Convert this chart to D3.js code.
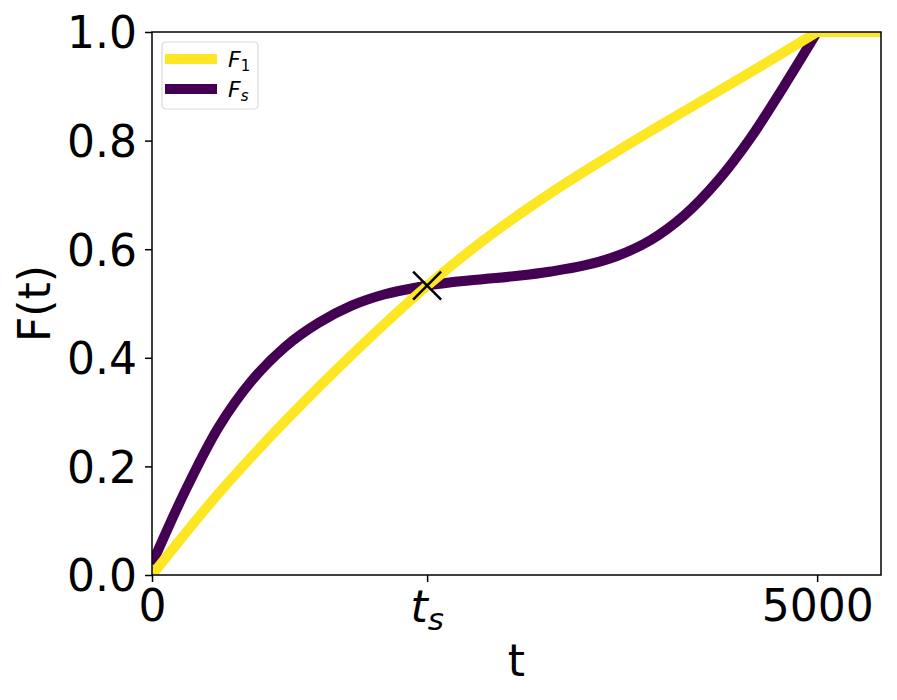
<!DOCTYPE html>
<html>
<head>
<meta charset="utf-8">
<script src="https://cdn.jsdelivr.net/npm/d3@7"></script>
<style>
  body { margin: 0; background: #fff; }
  text { font-family: "DejaVu Sans", sans-serif; }
</style>
</head>
<body>
<script>
(function() {
    var w = 897,
        h = 700;
    var margin = {top: 32, right: 16, bottom: 125, left: 152};

    // data
    var tS = 2068;
    var tEnd = 5000;
    var xTicks = [0, tS, 5000];
    var yTicks = [0, 0.2, 0.4, 0.6, 0.8, 1.0];
    var f1T = [0, 500, 1000, 1500, 2000, 2500, 3000, 3500, 4000, 4500, 5000, 5480];
    var f1V = [0, 0.150, 0.283, 0.405, 0.518, 0.618, 0.704, 0.781, 0.854, 0.926, 1.0, 1.0];
    var fsT = [0, 250, 500, 750, 1000, 1250, 1500, 1750, 2000, 2250, 2500, 2750, 3000, 3250, 3500, 3750, 4000, 4250, 4500, 4750, 5000, 5480];
    var fsV = [0.02, 0.155, 0.272, 0.358, 0.420, 0.464, 0.496, 0.517, 0.530, 0.539, 0.545, 0.551, 0.559, 0.570, 0.588, 0.617, 0.662, 0.725, 0.805, 0.900, 1.0, 1.0];

    var iw = w - margin.left - margin.right,
        ih = h - margin.top - margin.bottom;

    var svg = d3.select('body')
        .append('svg')
        .attr('width', w)
        .attr('height', h);

    var x = d3.scaleLinear().domain([0, 5480]).range([0, iw]);
    var y = d3.scaleLinear().domain([0, 1]).range([ih, 0]);

    var g = svg.append('g')
        .attr('transform', 'translate(' + margin.left + ',' + margin.top + ')');

    svg.append('defs').append('clipPath').attr('id', 'clip')
        .append('rect').attr('width', iw).attr('height', ih);

    var smooth = d3.line()
        .x(function(d) { return x(d[0]); })
        .y(function(d) { return y(d[1]); })
        .curve(d3.curveCatmullRom.alpha(0.5));
    var straight = d3.line()
        .x(function(d) { return x(d[0]); })
        .y(function(d) { return y(d[1]); });

    // smooth part up to 5000, then the flat tail, as one path
    function pathOf(ts, vs) {
        var pts = d3.zip(ts, vs);
        var k = ts.indexOf(tEnd);
        return smooth(pts.slice(0, k + 1)) + straight(pts.slice(k)).replace(/^M/, 'L');
    }

    var plot = g.append('g').attr('clip-path', 'url(#clip)');

    plot.append('path')
        .attr('d', pathOf(fsT, fsV))
        .attr('fill', 'none')
        .attr('stroke', '#440154')
        .attr('stroke-linejoin', 'round')
        .attr('stroke-width', 10);

    plot.append('path')
        .attr('d', pathOf(f1T, f1V))
        .attr('fill', 'none')
        .attr('stroke', '#fde725')
        .attr('stroke-linejoin', 'round')
        .attr('stroke-width', 10);

    // cross marker at t_s
    var cx = x(tS), cy = y(0.533), s = 14;
    g.append('path')
        .attr('d', 'M' + (cx - s) + ',' + (cy - s) + 'L' + (cx + s) + ',' + (cy + s) +
                   'M' + (cx - s) + ',' + (cy + s) + 'L' + (cx + s) + ',' + (cy - s))
        .attr('stroke', '#000')
        .attr('stroke-width', 2.5);

    // axes
    var xAxis = g.append('g')
        .attr('transform', 'translate(0,' + ih + ')')
        .call(d3.axisBottom(x).tickValues(xTicks).tickSize(7).tickPadding(6)
            .tickFormat(function(d) { return d === tS ? '' : d; }));
    var yAxis = g.append('g')
        .call(d3.axisLeft(y).tickValues(yTicks).tickSize(7).tickPadding(8)
            .tickFormat(d3.format('.1f')));

    [xAxis, yAxis].forEach(function(a) {
        a.select('.domain').remove();
        a.selectAll('line').attr('stroke', '#000').attr('stroke-width', 1.5);
        a.selectAll('text').attr('fill', '#000').style('font-size', '44px')
            .style('font-family', '"DejaVu Sans", sans-serif');
    });
    yAxis.selectAll('text').attr('dy', '0.36em');
    xAxis.selectAll('text').attr('dy', '0.76em');

    // t_s label
    var ts = g.append('text')
        .attr('x', x(tS))
        .attr('y', ih + 47)
        .attr('text-anchor', 'middle')
        .style('font-size', '44px')
        .style('font-style', 'italic');
    ts.append('tspan').text('t');
    ts.append('tspan').attr('dy', 8).style('font-size', '31px').text('s');

    // frame
    g.append('rect')
        .attr('width', iw)
        .attr('height', ih)
        .attr('fill', 'none')
        .attr('stroke', '#000')
        .attr('stroke-width', 1.5);

    // axis labels
    svg.append('text')
        .attr('x', margin.left + iw / 2)
        .attr('y', 676)
        .attr('text-anchor', 'middle')
        .style('font-size', '44px')
        .text('t');
    svg.append('text')
        .attr('transform', 'translate(50,' + (margin.top + ih / 2) + ') rotate(-90)')
        .attr('text-anchor', 'middle')
        .style('font-size', '44px')
        .text('F(t)');

    // legend
    var lg = g.append('g').attr('transform', 'translate(10,10)');
    lg.append('rect')
        .attr('width', 96)
        .attr('height', 67)
        .attr('rx', 4)
        .attr('fill', '#fff')
        .attr('fill-opacity', 0.8)
        .attr('stroke', '#d9d9d9')
        .attr('stroke-width', 1.2);
    var items = [['#fde725', 'F', '1', false], ['#440154', 'F', 's', true]];
    items.forEach(function(it, i) {
        var yy = 17 + i * 30;
        lg.append('line')
            .attr('x1', 3).attr('x2', 55)
            .attr('y1', yy).attr('y2', yy)
            .attr('stroke', it[0]).attr('stroke-width', 10);
        var t = lg.append('text')
            .attr('x', 66)
            .attr('y', yy + 8)
            .style('font-size', '22px');
        t.append('tspan').style('font-style', 'italic').text(it[1]);
        t.append('tspan').attr('dy', 4).style('font-size', '15px')
            .style('font-style', it[3] ? 'italic' : 'normal').text(it[2]);
    });
})();
</script>
</body>
</html>
